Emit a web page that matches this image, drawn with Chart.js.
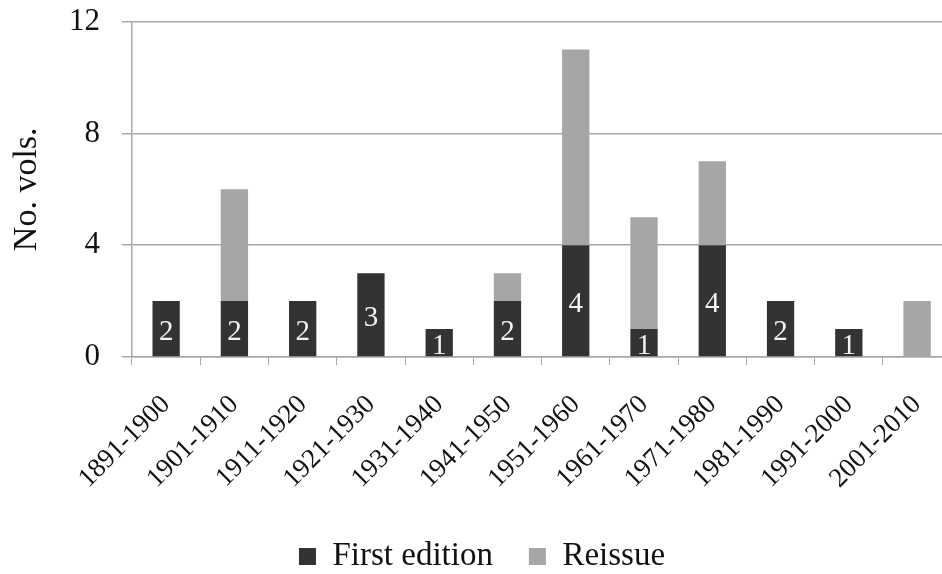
<!DOCTYPE html>
<html>
<head>
<meta charset="utf-8">
<script src="https://cdn.jsdelivr.net/npm/chart.js@4/dist/chart.umd.min.js"></script>
<style>
  html, body { margin: 0; padding: 0; background: #fff; overflow: hidden; }
  #wrap { width: 964px; height: 602px; margin-top: -19px; }
</style>
</head>
<body>
<div id="wrap"><canvas id="chart" width="964" height="602"></canvas></div>
<script>
const decades = ['1891-1900', '1901-1910', '1911-1920', '1921-1930', '1931-1940', '1941-1950',
                 '1951-1960', '1961-1970', '1971-1980', '1981-1990', '1991-2000', '2001-2010'];
const firstEdition = [2, 2, 2, 3, 1, 2, 4, 1, 4, 2, 1, 0];
const reissue = [0, 4, 0, 0, 0, 1, 7, 4, 3, 0, 0, 2];
const yTicks = [0, 4, 8, 12];

const serif = '"Liberation Serif", "Times New Roman", serif';
const gridGrey = '#a8a8a8';

// white count labels inside the dark bars
const barLabels = {
    id: 'barLabels',
    afterDatasetsDraw(chart) {
        const ctx = chart.ctx;
        const meta = chart.getDatasetMeta(0);
        ctx.save();
        ctx.fillStyle = '#f2f2f2';
        ctx.font = '29px ' + serif;
        ctx.textAlign = 'center';
        ctx.textBaseline = 'middle';
        meta.data.forEach((bar, i) => {
            const v = firstEdition[i];
            if (!v) return;
            const cy = (bar.y + bar.base) / 2 + 4;
            ctx.fillText(String(v), bar.x, cy);
        });
        ctx.restore();
    }
};

new Chart(document.getElementById('chart'), {
    type: 'bar',
    data: {
        labels: decades,
        datasets: [
            { label: 'First edition', data: firstEdition, backgroundColor: '#333333',
              categoryPercentage: 1, barPercentage: 0.4 },
            { label: 'Reissue', data: reissue, backgroundColor: '#a6a6a6',
              categoryPercentage: 1, barPercentage: 0.4 }
        ]
    },
    plugins: [barLabels],
    options: {
        responsive: false,
        animation: false,
        layout: { padding: { top: 4, left: 0, right: 0, bottom: 0 } },
        plugins: {
            tooltip: { enabled: false },
            legend: {
                position: 'bottom',
                labels: {
                    font: { family: serif, size: 33 },
                    color: '#111',
                    boxWidth: 17,
                    boxHeight: 17,
                    padding: 36,
                    useBorderRadius: false
                }
            }
        },
        scales: {
            x: {
                stacked: true,
                grid: { drawOnChartArea: false, drawTicks: true, tickLength: 8, color: gridGrey, offset: true },
                border: { color: gridGrey, width: 1.5 },
                ticks: {
                    font: { family: serif, size: 27 },
                    color: '#111',
                    minRotation: 45,
                    maxRotation: 45,
                    padding: 24,
                    autoSkip: false
                },
                afterFit(scale) { scale.height = 147; }
            },
            y: {
                stacked: true,
                min: 0,
                max: 12,
                afterBuildTicks(scale) { scale.ticks = yTicks.map(v => ({ value: v })); },
                grid: { color: gridGrey, lineWidth: 1.5, tickLength: 10 },
                border: { color: gridGrey, width: 1.5 },
                ticks: {
                    font: { family: serif, size: 31 },
                    color: '#111',
                    padding: 22
                },
                title: {
                    display: true,
                    text: 'No. vols.',
                    font: { family: serif, size: 34 },
                    color: '#111',
                    padding: { top: 7, bottom: 0 }
                },
                afterFit(scale) { scale.width = 132; }
            }
        }
    }
});
</script>
</body>
</html>
